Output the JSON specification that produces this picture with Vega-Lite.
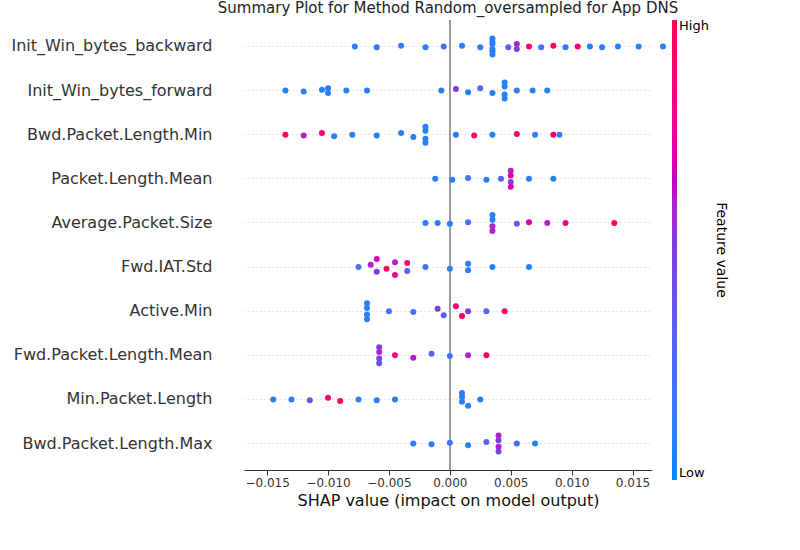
{
"$schema":"https://vega.github.io/schema/vega-lite/v6.json",
"width":408,"height":450,
"padding":{"left":10,"top":0,"right":5,"bottom":5},
"title":{"text":"Summary Plot for Method Random_oversampled for App DNS","fontSize":15,"fontWeight":"normal","font":"DejaVu Sans","color":"#222","offset":4},
"config":{"view":{"stroke":null},"font":"DejaVu Sans"},
"data":{"values":[
{"f":"Init_Win_bytes_backward","s":-0.0078,"v":0.1,"j":0},{"f":"Init_Win_bytes_backward","s":-0.006,"v":0.1,"j":0.1},{"f":"Init_Win_bytes_backward","s":-0.004,"v":0.15,"j":-0.1},{"f":"Init_Win_bytes_backward","s":-0.002,"v":0.1,"j":0.1},{"f":"Init_Win_bytes_backward","s":-0.0005,"v":0.2,"j":0},{"f":"Init_Win_bytes_backward","s":0.001,"v":0.1,"j":-0.1},{"f":"Init_Win_bytes_backward","s":0.0025,"v":0.1,"j":0.1},
{"f":"Init_Win_bytes_backward","s":0.0035,"v":0.1,"j":-1},{"f":"Init_Win_bytes_backward","s":0.0035,"v":0.1,"j":-0.6},{"f":"Init_Win_bytes_backward","s":0.0035,"v":0.1,"j":-0.3},{"f":"Init_Win_bytes_backward","s":0.0035,"v":0.1,"j":0.3},{"f":"Init_Win_bytes_backward","s":0.0035,"v":0.1,"j":0.6},{"f":"Init_Win_bytes_backward","s":0.0035,"v":0.1,"j":1},
{"f":"Init_Win_bytes_backward","s":0.0048,"v":0.3,"j":0.1},{"f":"Init_Win_bytes_backward","s":0.0055,"v":0.6,"j":-0.3},{"f":"Init_Win_bytes_backward","s":0.0055,"v":0.5,"j":0.3},{"f":"Init_Win_bytes_backward","s":0.0065,"v":0.9,"j":0},{"f":"Init_Win_bytes_backward","s":0.0075,"v":0.2,"j":0.1},{"f":"Init_Win_bytes_backward","s":0.0085,"v":0.95,"j":-0.1},{"f":"Init_Win_bytes_backward","s":0.0095,"v":0.1,"j":0.1},{"f":"Init_Win_bytes_backward","s":0.0105,"v":0.9,"j":0},{"f":"Init_Win_bytes_backward","s":0.0115,"v":0.1,"j":0},{"f":"Init_Win_bytes_backward","s":0.0125,"v":0.1,"j":0.1},{"f":"Init_Win_bytes_backward","s":0.0138,"v":0.1,"j":0},{"f":"Init_Win_bytes_backward","s":0.0155,"v":0.1,"j":0},{"f":"Init_Win_bytes_backward","s":0.0175,"v":0.1,"j":0},
{"f":"Init_Win_bytes_forward","s":-0.0135,"v":0.1,"j":0},{"f":"Init_Win_bytes_forward","s":-0.012,"v":0.1,"j":0.1},{"f":"Init_Win_bytes_forward","s":-0.0105,"v":0.1,"j":-0.1},{"f":"Init_Win_bytes_forward","s":-0.01,"v":0.1,"j":-0.3},{"f":"Init_Win_bytes_forward","s":-0.01,"v":0.1,"j":0.3},{"f":"Init_Win_bytes_forward","s":-0.0085,"v":0.1,"j":0},{"f":"Init_Win_bytes_forward","s":-0.0068,"v":0.1,"j":0},
{"f":"Init_Win_bytes_forward","s":-0.0007,"v":0.1,"j":0},{"f":"Init_Win_bytes_forward","s":0.0005,"v":0.5,"j":-0.2},{"f":"Init_Win_bytes_forward","s":0.0015,"v":0.1,"j":0.2},{"f":"Init_Win_bytes_forward","s":0.0025,"v":0.3,"j":-0.3},{"f":"Init_Win_bytes_forward","s":0.0035,"v":0.1,"j":0.3},{"f":"Init_Win_bytes_forward","s":0.0045,"v":0.1,"j":-1},{"f":"Init_Win_bytes_forward","s":0.0045,"v":0.1,"j":-0.5},{"f":"Init_Win_bytes_forward","s":0.0045,"v":0.1,"j":0.5},{"f":"Init_Win_bytes_forward","s":0.0045,"v":0.1,"j":1},{"f":"Init_Win_bytes_forward","s":0.0055,"v":0.2,"j":0},{"f":"Init_Win_bytes_forward","s":0.0068,"v":0.1,"j":0},{"f":"Init_Win_bytes_forward","s":0.008,"v":0.1,"j":0},
{"f":"Bwd.Packet.Length.Min","s":-0.0135,"v":0.95,"j":0},{"f":"Bwd.Packet.Length.Min","s":-0.012,"v":0.6,"j":0.1},{"f":"Bwd.Packet.Length.Min","s":-0.0105,"v":0.95,"j":-0.2},{"f":"Bwd.Packet.Length.Min","s":-0.0095,"v":0.1,"j":0.2},{"f":"Bwd.Packet.Length.Min","s":-0.008,"v":0.1,"j":0},{"f":"Bwd.Packet.Length.Min","s":-0.006,"v":0.1,"j":0.1},{"f":"Bwd.Packet.Length.Min","s":-0.004,"v":0.1,"j":-0.2},{"f":"Bwd.Packet.Length.Min","s":-0.003,"v":0.1,"j":0.3},
{"f":"Bwd.Packet.Length.Min","s":-0.002,"v":0.1,"j":-1},{"f":"Bwd.Packet.Length.Min","s":-0.002,"v":0.1,"j":-0.5},{"f":"Bwd.Packet.Length.Min","s":-0.002,"v":0.1,"j":0.5},{"f":"Bwd.Packet.Length.Min","s":-0.002,"v":0.1,"j":1},{"f":"Bwd.Packet.Length.Min","s":0.0005,"v":0.1,"j":0},{"f":"Bwd.Packet.Length.Min","s":0.002,"v":0.9,"j":0.1},{"f":"Bwd.Packet.Length.Min","s":0.0035,"v":0.1,"j":0},{"f":"Bwd.Packet.Length.Min","s":0.0055,"v":0.9,"j":-0.1},{"f":"Bwd.Packet.Length.Min","s":0.007,"v":0.1,"j":0},{"f":"Bwd.Packet.Length.Min","s":0.0085,"v":0.95,"j":0},{"f":"Bwd.Packet.Length.Min","s":0.009,"v":0.1,"j":0},
{"f":"Packet.Length.Mean","s":-0.0012,"v":0.1,"j":0},{"f":"Packet.Length.Mean","s":0.0002,"v":0.1,"j":0.1},{"f":"Packet.Length.Mean","s":0.0015,"v":0.2,"j":-0.1},{"f":"Packet.Length.Mean","s":0.003,"v":0.1,"j":0.1},{"f":"Packet.Length.Mean","s":0.0042,"v":0.3,"j":0},{"f":"Packet.Length.Mean","s":0.005,"v":0.6,"j":-1},{"f":"Packet.Length.Mean","s":0.005,"v":0.8,"j":-0.4},{"f":"Packet.Length.Mean","s":0.005,"v":0.5,"j":0.4},{"f":"Packet.Length.Mean","s":0.005,"v":0.7,"j":1},{"f":"Packet.Length.Mean","s":0.0065,"v":0.1,"j":0},{"f":"Packet.Length.Mean","s":0.0085,"v":0.1,"j":0},
{"f":"Average.Packet.Size","s":-0.002,"v":0.1,"j":0},{"f":"Average.Packet.Size","s":-0.001,"v":0.1,"j":0},{"f":"Average.Packet.Size","s":0,"v":0.1,"j":0.1},{"f":"Average.Packet.Size","s":0.0015,"v":0.2,"j":-0.1},{"f":"Average.Packet.Size","s":0.0035,"v":0.1,"j":-1},{"f":"Average.Packet.Size","s":0.0035,"v":0.1,"j":-0.4},{"f":"Average.Packet.Size","s":0.0035,"v":0.6,"j":0.4},{"f":"Average.Packet.Size","s":0.0035,"v":0.6,"j":1},{"f":"Average.Packet.Size","s":0.0055,"v":0.4,"j":0.1},{"f":"Average.Packet.Size","s":0.0065,"v":0.7,"j":-0.1},{"f":"Average.Packet.Size","s":0.008,"v":0.6,"j":0},{"f":"Average.Packet.Size","s":0.0095,"v":0.8,"j":0},{"f":"Average.Packet.Size","s":0.0135,"v":0.95,"j":0},
{"f":"Fwd.IAT.Std","s":-0.0075,"v":0.2,"j":0},{"f":"Fwd.IAT.Std","s":-0.0065,"v":0.6,"j":-0.3},{"f":"Fwd.IAT.Std","s":-0.006,"v":0.7,"j":-1},{"f":"Fwd.IAT.Std","s":-0.006,"v":0.5,"j":0.6},{"f":"Fwd.IAT.Std","s":-0.0052,"v":0.95,"j":0.2},{"f":"Fwd.IAT.Std","s":-0.0045,"v":0.6,"j":-0.6},{"f":"Fwd.IAT.Std","s":-0.0045,"v":0.8,"j":1},{"f":"Fwd.IAT.Std","s":-0.0035,"v":0.9,"j":-0.5},{"f":"Fwd.IAT.Std","s":-0.0035,"v":0.3,"j":0.5},{"f":"Fwd.IAT.Std","s":-0.002,"v":0.2,"j":0},{"f":"Fwd.IAT.Std","s":0,"v":0.1,"j":0.2},{"f":"Fwd.IAT.Std","s":0.0015,"v":0.1,"j":-0.4},{"f":"Fwd.IAT.Std","s":0.0015,"v":0.1,"j":0.4},{"f":"Fwd.IAT.Std","s":0.0035,"v":0.1,"j":0},{"f":"Fwd.IAT.Std","s":0.0065,"v":0.1,"j":0},
{"f":"Active.Min","s":-0.0068,"v":0.1,"j":-1},{"f":"Active.Min","s":-0.0068,"v":0.1,"j":-0.4},{"f":"Active.Min","s":-0.0068,"v":0.1,"j":0.4},{"f":"Active.Min","s":-0.0068,"v":0.1,"j":1},{"f":"Active.Min","s":-0.005,"v":0.2,"j":0},{"f":"Active.Min","s":-0.003,"v":0.2,"j":0.1},{"f":"Active.Min","s":-0.001,"v":0.5,"j":-0.3},{"f":"Active.Min","s":-0.0005,"v":0.3,"j":0.5},{"f":"Active.Min","s":0.0005,"v":0.9,"j":-0.6},{"f":"Active.Min","s":0.001,"v":0.95,"j":0.6},{"f":"Active.Min","s":0.0015,"v":0.5,"j":0},{"f":"Active.Min","s":0.003,"v":0.3,"j":0},{"f":"Active.Min","s":0.0045,"v":0.95,"j":0},
{"f":"Fwd.Packet.Length.Mean","s":-0.0058,"v":0.5,"j":-1},{"f":"Fwd.Packet.Length.Mean","s":-0.0058,"v":0.6,"j":-0.4},{"f":"Fwd.Packet.Length.Mean","s":-0.0058,"v":0.5,"j":0.4},{"f":"Fwd.Packet.Length.Mean","s":-0.0058,"v":0.4,"j":1},{"f":"Fwd.Packet.Length.Mean","s":-0.0045,"v":0.9,"j":0},{"f":"Fwd.Packet.Length.Mean","s":-0.003,"v":0.6,"j":0.3},{"f":"Fwd.Packet.Length.Mean","s":-0.0015,"v":0.3,"j":-0.2},{"f":"Fwd.Packet.Length.Mean","s":0,"v":0.2,"j":0.1},{"f":"Fwd.Packet.Length.Mean","s":0.0015,"v":0.6,"j":0},{"f":"Fwd.Packet.Length.Mean","s":0.003,"v":0.95,"j":0},
{"f":"Min.Packet.Length","s":-0.0145,"v":0.1,"j":0},{"f":"Min.Packet.Length","s":-0.013,"v":0.1,"j":0},{"f":"Min.Packet.Length","s":-0.0115,"v":0.4,"j":0.1},{"f":"Min.Packet.Length","s":-0.01,"v":0.9,"j":-0.2},{"f":"Min.Packet.Length","s":-0.009,"v":0.95,"j":0.2},{"f":"Min.Packet.Length","s":-0.0075,"v":0.1,"j":0},{"f":"Min.Packet.Length","s":-0.006,"v":0.1,"j":0.1},{"f":"Min.Packet.Length","s":-0.0045,"v":0.1,"j":0},
{"f":"Min.Packet.Length","s":0.001,"v":0.1,"j":-0.8},{"f":"Min.Packet.Length","s":0.001,"v":0.1,"j":-0.3},{"f":"Min.Packet.Length","s":0.001,"v":0.1,"j":0.3},{"f":"Min.Packet.Length","s":0.0015,"v":0.1,"j":0.8},{"f":"Min.Packet.Length","s":0.0025,"v":0.1,"j":0},
{"f":"Bwd.Packet.Length.Max","s":-0.003,"v":0.1,"j":0},{"f":"Bwd.Packet.Length.Max","s":-0.0015,"v":0.1,"j":0.1},{"f":"Bwd.Packet.Length.Max","s":0,"v":0.2,"j":-0.1},{"f":"Bwd.Packet.Length.Max","s":0.0015,"v":0.1,"j":0.2},{"f":"Bwd.Packet.Length.Max","s":0.003,"v":0.3,"j":-0.2},{"f":"Bwd.Packet.Length.Max","s":0.004,"v":0.6,"j":-1},{"f":"Bwd.Packet.Length.Max","s":0.004,"v":0.5,"j":-0.4},{"f":"Bwd.Packet.Length.Max","s":0.004,"v":0.6,"j":0.4},{"f":"Bwd.Packet.Length.Max","s":0.004,"v":0.5,"j":1},{"f":"Bwd.Packet.Length.Max","s":0.0055,"v":0.2,"j":0},{"f":"Bwd.Packet.Length.Max","s":0.007,"v":0.1,"j":0}
]},
"layer":[
{"mark":{"type":"rule","color":"#999","strokeWidth":1},"encoding":{"x":{"datum":0}}},
{"mark":{"type":"circle","size":36,"opacity":1},
"encoding":{
"x":{"field":"s","type":"quantitative","scale":{"domain":[-0.0169,0.0166],"nice":false,"zero":false},
"axis":{"values":[-0.015,-0.01,-0.005,0,0.005,0.01,0.015],"format":".3f","labelFontSize":12,"labelColor":"#333","title":"SHAP value (impact on model output)","titleFontSize":16,"titleFontWeight":"normal","titleColor":"#111","grid":false,"domainColor":"#333","tickColor":"#333"}},
"y":{"field":"f","type":"nominal","sort":["Init_Win_bytes_backward","Init_Win_bytes_forward","Bwd.Packet.Length.Min","Packet.Length.Mean","Average.Packet.Size","Fwd.IAT.Std","Active.Min","Fwd.Packet.Length.Mean","Min.Packet.Length","Bwd.Packet.Length.Max"],
"axis":{"title":null,"domain":false,"ticks":false,"labelFontSize":16,"labelLimit":400,"labelColor":"#333","labelPadding":32,"grid":true,"gridDash":[1,3],"gridColor":"#ccc","bandPosition":0.5}},
"yOffset":{"field":"j","type":"quantitative","scale":{"domain":[-2.2,2.2]}},
"color":{"field":"v","type":"quantitative","scale":{"domain":[0,1],"range":["#008afb","#7b3fe0","#ff0052"]},
"legend":{"title":"Feature value","titleOrient":"right","titleAngle":90,"titleFontSize":14,"titleFontWeight":"normal","gradientLength":460,"gradientThickness":5,"values":[0,1],"labelExpr":"datum.value==0?'Low':'High'","labelFontSize":13,"direction":"vertical","offset":20,"titleAnchor":"middle"}}
}}
]
}
